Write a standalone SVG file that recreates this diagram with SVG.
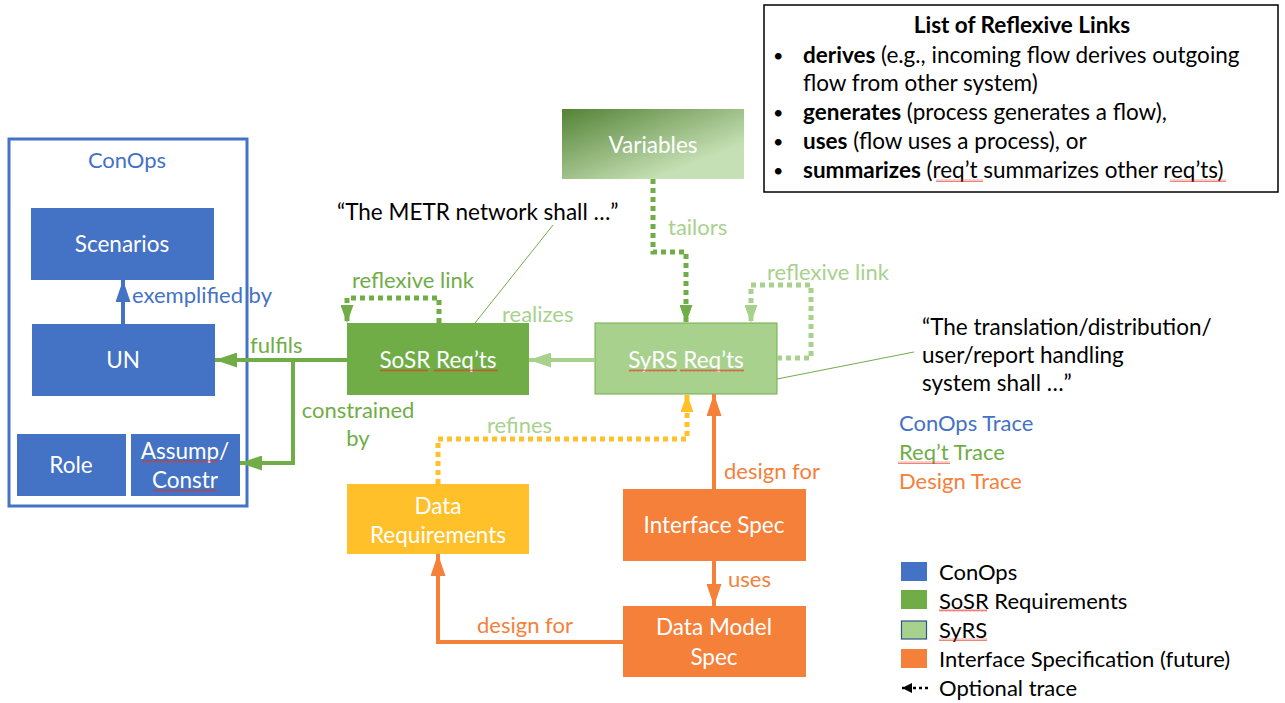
<svg xmlns="http://www.w3.org/2000/svg" width="1285" height="703" viewBox="0 0 1285 703">
<style>
text{font-family:Lato,"Open Sans","Liberation Sans",sans-serif;}
.lbl{font-size:22.5px;fill:#fff;text-anchor:middle;}
.blue{fill:#4472C4;}
.green{fill:#70AD47;}
.lgreen{fill:#A9D18E;}
.orange{fill:#F4803A;}
.blk{fill:#000;}
.t20{font-size:22px;}
.t21{font-size:22.5px;}
.b{font-weight:bold;}
.bul{font-size:18px;}
.sq{fill:url(#squig);}
.solid{fill:none;stroke-width:4;}
.dot{fill:none;stroke-width:5;stroke-dasharray:5 4;}
</style>
<defs>
<marker id="ah-blue" viewBox="0 0 22 15" refX="22" refY="7.5" markerWidth="22" markerHeight="15" markerUnits="userSpaceOnUse" orient="auto"><path d="M0,0L22,7.5L0,15z" fill="#4472C4"/></marker>
<marker id="ah-green" viewBox="0 0 22 15" refX="22" refY="7.5" markerWidth="22" markerHeight="15" markerUnits="userSpaceOnUse" orient="auto"><path d="M0,0L22,7.5L0,15z" fill="#70AD47"/></marker>
<marker id="ah-lgreen" viewBox="0 0 22 15" refX="22" refY="7.5" markerWidth="22" markerHeight="15" markerUnits="userSpaceOnUse" orient="auto"><path d="M0,0L22,7.5L0,15z" fill="#A9D18E"/></marker>
<marker id="ah-orange" viewBox="0 0 22 15" refX="22" refY="7.5" markerWidth="22" markerHeight="15" markerUnits="userSpaceOnUse" orient="auto"><path d="M0,0L22,7.5L0,15z" fill="#F4803A"/></marker>
<marker id="dh-green" viewBox="0 0 18 13" refX="18" refY="6.5" markerWidth="18" markerHeight="13" markerUnits="userSpaceOnUse" orient="auto"><path d="M0,0L18,6.5L0,13z" fill="#70AD47"/></marker>
<marker id="dh-lgreen" viewBox="0 0 18 13" refX="18" refY="6.5" markerWidth="18" markerHeight="13" markerUnits="userSpaceOnUse" orient="auto"><path d="M0,0L18,6.5L0,13z" fill="#A9D18E"/></marker>
<marker id="dh-yellow" viewBox="0 0 18 13" refX="18" refY="6.5" markerWidth="18" markerHeight="13" markerUnits="userSpaceOnUse" orient="auto"><path d="M0,0L18,6.5L0,13z" fill="#FFC02A"/></marker>
<marker id="ah-black" viewBox="0 0 10 10" refX="10" refY="5" markerWidth="10" markerHeight="10" markerUnits="userSpaceOnUse" orient="auto"><path d="M0,0L10,5L0,10z" fill="#000"/></marker>
<linearGradient id="gVar" x1="0" y1="0" x2="1" y2="1">
<stop offset="0" stop-color="#548235"/><stop offset="0.75" stop-color="#C5E0B4"/>
</linearGradient>
<pattern id="squig" width="4" height="3" patternUnits="userSpaceOnUse"><path d="M0,2.5L1,0.5L2,2.5L3,0.5L4,2.5" fill="none" stroke="#E0301E" stroke-width="0.6"/></pattern>
</defs>

<g id="conops">
<rect x="9" y="139" width="238" height="367" fill="#fff" stroke="#4472C4" stroke-width="3"/>
<text x="127" y="168" class="blue t20" text-anchor="middle">ConOps</text>
</g>
<g id="scenarios">
<rect x="31" y="208" width="183" height="72" fill="#4472C4"/>
<text x="122" y="252" class="lbl">Scenarios</text>
</g>
<g id="un">
<rect x="32" y="324" width="183" height="72" fill="#4472C4"/>
<text x="123" y="368" class="lbl">UN</text>
</g>
<g id="role">
<rect x="17" y="434" width="109" height="62" fill="#4472C4"/>
<text x="71" y="473" class="lbl">Role</text>
</g>
<g id="assump">
<rect x="131" y="434" width="109" height="62" fill="#4472C4"/>
<text x="185" y="459" class="lbl">Assump/</text>
<text x="185" y="488" class="lbl">Constr</text>
<rect x="142" y="460" width="76" height="3" class="sq"/>
<rect x="153" y="489" width="64" height="3" class="sq"/>
</g>
<g id="sosr">
<rect x="347" y="323" width="182" height="72" fill="#70AD47"/>
<text x="438" y="368" class="lbl">SoSR Req’ts</text>
<rect x="380" y="369" width="48" height="3" class="sq"/>
<rect x="434" y="369" width="64" height="3" class="sq"/>
</g>
<g id="syrs">
<rect x="595" y="323" width="182" height="71" fill="#A9D18E" stroke="#70AD47" stroke-width="1"/>
<text x="686" y="368" class="lbl">SyRS Req’ts</text>
<rect x="629" y="369" width="48" height="3" class="sq"/>
<rect x="680" y="369" width="64" height="3" class="sq"/>
</g>
<g id="variables">
<rect x="562" y="109" width="182" height="70" fill="url(#gVar)"/>
<text x="653" y="153" class="lbl">Variables</text>
</g>
<g id="datareq">
<rect x="347" y="484" width="182" height="70" fill="#FFC02A"/>
<text x="438" y="514" class="lbl">Data</text>
<text x="438" y="543" class="lbl">Requirements</text>
</g>
<g id="ifspec">
<rect x="623" y="489" width="183" height="72" fill="#F4803A"/>
<text x="714" y="533" class="lbl">Interface Spec</text>
</g>
<g id="dmspec">
<rect x="623" y="606" width="183" height="71" fill="#F4803A"/>
<text x="714" y="635" class="lbl">Data Model</text>
<text x="714" y="665" class="lbl">Spec</text>
</g>

<g id="reflist">
<rect x="764" y="5" width="514" height="187" fill="#fff" stroke="#000" stroke-width="1.5"/>
<text x="1022" y="33" class="blk t21 b" text-anchor="middle">List of Reflexive Links</text>
<g class="blk t21">
<text x="773" y="62" class="bul">•</text>
<text x="803" y="63"><tspan class="b">derives</tspan> (e.g., incoming flow derives outgoing</text>
<text x="803" y="91">flow from other system)</text>
<text x="773" y="119" class="bul">•</text>
<text x="803" y="120"><tspan class="b">generates</tspan> (process generates a flow),</text>
<text x="773" y="148" class="bul">•</text>
<text x="803" y="149"><tspan class="b">uses</tspan> (flow uses a process), or</text>
<text x="773" y="177" class="bul">•</text>
<text x="803" y="178"><tspan class="b">summarizes</tspan> (req’t summarizes other req’ts)</text>
</g>
<rect x="936" y="179" width="47" height="3" class="sq"/>
<rect x="1170" y="179" width="56" height="3" class="sq"/>
</g>

<g id="callouts">
<text x="337" y="220" class="blk t21">“The METR network shall …”</text>
<line x1="553" y1="225" x2="475" y2="323" stroke="#70AD47" stroke-width="1"/>
<text x="922" y="335" class="blk t21">“The translation/distribution/</text>
<text x="922" y="363" class="blk t21">user/report handling</text>
<text x="922" y="391" class="blk t21">system shall …”</text>
<line x1="777" y1="379" x2="914" y2="352" stroke="#70AD47" stroke-width="1"/>
</g>

<g id="traces">
<text x="899" y="431" class="blue t20">ConOps Trace</text>
<text x="899" y="460" class="green t20">Req’t Trace</text>
<rect x="898" y="461" width="52" height="3" class="sq"/>
<text x="899" y="489" class="orange t20">Design Trace</text>
</g>

<g id="legend">
<rect x="901" y="562" width="26" height="19" fill="#4472C4"/>
<text x="939" y="580" class="blk t20">ConOps</text>
<rect x="901" y="590" width="26" height="19" fill="#70AD47"/>
<text x="939" y="609" class="blk t20">SoSR Requirements</text>
<rect x="939" y="609" width="48" height="3" class="sq"/>
<rect x="901.5" y="621" width="25" height="18" fill="#A9D18E" stroke="#2F528F" stroke-width="1.2"/>
<text x="939" y="638" class="blk t20">SyRS</text>
<rect x="939" y="638" width="48" height="3" class="sq"/>
<rect x="901" y="649" width="26" height="19" fill="#F4803A"/>
<text x="939" y="667" class="blk t20">Interface Specification (future)</text>
<line x1="928" y1="688" x2="902" y2="688" stroke="#000" stroke-width="2.5" stroke-dasharray="3 3" marker-end="url(#ah-black)"/>
<text x="939" y="696" class="blk t20">Optional trace</text>
</g>

<g id="connectors">
<line x1="123" y1="324" x2="123" y2="280" class="solid" stroke="#4472C4" marker-end="url(#ah-blue)"/>
<text x="132" y="303" class="blue t20">exemplified by</text>

<path d="M347,360H215" class="solid" stroke="#70AD47" marker-end="url(#ah-green)"/>
<path d="M293,360V463H240" class="solid" stroke="#70AD47" marker-end="url(#ah-green)"/>
<text x="250" y="353" class="green t20">fulfils</text>
<text x="358" y="418" class="green t20" text-anchor="middle">constrained</text>
<text x="358" y="446" class="green t20" text-anchor="middle">by</text>

<path d="M439,323V298H347V323" class="dot" stroke="#70AD47" marker-end="url(#dh-green)"/>
<text x="352" y="288" class="green t20">reflexive link</text>

<path d="M595,360H529" class="solid" stroke="#A9D18E" marker-end="url(#ah-lgreen)"/>
<text x="502" y="322" class="lgreen t20">realizes</text>

<path d="M653,179V252H686V323" class="dot" stroke="#70AD47" marker-end="url(#dh-green)"/>
<text x="668" y="235" class="lgreen t20">tailors</text>

<path d="M777,358H811V285H751V323" class="dot" stroke="#A9D18E" marker-end="url(#dh-lgreen)"/>
<text x="767" y="280" class="lgreen t20">reflexive link</text>

<path d="M438,484V439H687V394" class="dot" stroke="#FFC02A" marker-end="url(#dh-yellow)"/>
<text x="487" y="433" class="lgreen t20">refines</text>

<path d="M714,489V394" class="solid" stroke="#F4803A" marker-end="url(#ah-orange)"/>
<text x="724" y="479" class="orange t20">design for</text>

<path d="M714,561V606" class="solid" stroke="#F4803A" marker-end="url(#ah-orange)"/>
<text x="728" y="587" class="orange t20">uses</text>

<path d="M623,642H438V554" class="solid" stroke="#F4803A" marker-end="url(#ah-orange)"/>
<text x="477" y="633" class="orange t20">design for</text>
</g>
</svg>
